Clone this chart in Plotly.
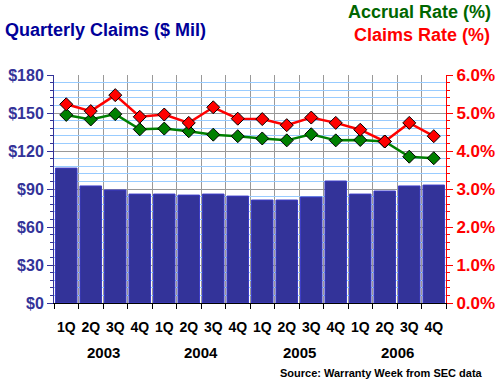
import numpy as np
import plotly.graph_objects as go

quarters = ["1Q", "2Q", "3Q", "4Q"] * 4
years = ["2003", "2004", "2005", "2006"]
claims = [106.5, 92.4, 89.2, 86.0, 86.0, 85.2, 86.0, 84.4, 81.3, 81.3, 83.7, 96.3, 86.0, 88.4, 92.4, 93.1]
accrual_rate = [4.95, 4.83, 4.97, 4.57, 4.59, 4.52, 4.43, 4.39, 4.33, 4.28, 4.44, 4.28, 4.29, 4.25, 3.85, 3.81]
claims_rate = [5.23, 5.05, 5.47, 4.90, 4.96, 4.74, 5.15, 4.85, 4.84, 4.68, 4.88, 4.74, 4.56, 4.25, 4.74, 4.39]

x = np.arange(len(quarters))
FONT = "Liberation Sans, Arial, sans-serif"
NAVY = "#333399"
RED = "#ff0000"
GREEN = "#008000"

fig = go.Figure()
fig.add_trace(go.Bar(x=x, y=claims, marker=dict(color=NAVY, line=dict(color="#3c3cc8", width=1)),
                     yaxis="y", name="Claims"))
fig.add_trace(go.Scatter(x=x, y=accrual_rate, yaxis="y2", mode="lines+markers",
                         line=dict(color=GREEN, width=2.5),
                         marker=dict(symbol="diamond", size=10, color=GREEN, line=dict(color="black", width=1)),
                         name="Accrual Rate"))
fig.add_trace(go.Scatter(x=x, y=claims_rate, yaxis="y2", mode="lines+markers",
                         line=dict(color=RED, width=2.5),
                         marker=dict(symbol="diamond", size=10, color=RED, line=dict(color="black", width=1)),
                         name="Claims Rate"))

boundaries = np.arange(len(quarters) + 1) - 0.5

fig.update_layout(
    width=500, height=387,
    margin=dict(l=54, r=54, t=75, b=84, autoexpand=False),
    paper_bgcolor="white", plot_bgcolor="white",
    showlegend=False, bargap=0.12,
    font=dict(family=FONT),
    xaxis=dict(range=[-0.5, len(quarters) - 0.5], tickmode="array", tickvals=x, ticktext=quarters,
               ticks="", showgrid=False, showline=True, linecolor="black", linewidth=1,
               automargin=False, ticklabelstandoff=11,
               tickfont=dict(family=FONT, size=14, color="black", weight="bold"),
               minor=dict(tickmode="array", tickvals=boundaries, ticks="outside", ticklen=5,
                          tickcolor="black", showgrid=True, gridcolor="#999999", gridwidth=1),
               zeroline=False),
    yaxis=dict(range=[0, 180], tickmode="linear", tick0=0, dtick=30, tickprefix="$",
               showline=True, linecolor=NAVY, linewidth=1, ticks="outside", ticklen=6, tickcolor=NAVY,
               automargin=False,
               tickfont=dict(family=FONT, size=16, color=NAVY, weight="bold"),
               showgrid=True, gridcolor="#999999", gridwidth=1, zeroline=False,
               minor=dict(dtick=6, ticks="outside", ticklen=3, tickcolor=NAVY,
                          showgrid=True, gridcolor="#99ccff", gridwidth=1)),
    yaxis2=dict(range=[0, 6], overlaying="y", side="right", tickmode="linear", tick0=0, dtick=1,
                tickformat=".1f", ticksuffix="%", showline=True, linecolor=RED, linewidth=1,
                ticks="outside", ticklen=6, tickcolor=RED, automargin=False,
                tickfont=dict(family=FONT, size=17, color=RED, weight="bold"),
                showgrid=False, zeroline=False,
                minor=dict(dtick=0.2, ticks="outside", ticklen=3, tickcolor=RED)),
)

for i, yr in enumerate(years):
    fig.add_annotation(x=4 * i + 1.5, y=0, xref="x", yref="paper", yanchor="middle", yshift=-49,
                       text=f"<b>{yr}</b>", showarrow=False,
                       font=dict(family=FONT, size=15, color="black"))

fig.add_annotation(x=(3 - 54) / 392, y=1 + 45 / 228, xref="paper", yref="paper", xanchor="left", yanchor="middle",
                   showarrow=False, text="<b>Quarterly Claims ($ Mil)</b>",
                   font=dict(family=FONT, size=18, color="#000099"))
fig.add_annotation(x=1 + 47 / 392, y=1 + 63 / 228, xref="paper", yref="paper", xanchor="right", yanchor="middle",
                   showarrow=False, text="<b>Accrual Rate (%)</b>", font=dict(family=FONT, size=18, color="#006600"))
fig.add_annotation(x=1 + 46 / 392, y=1 + 40 / 228, xref="paper", yref="paper", xanchor="right", yanchor="middle",
                   showarrow=False, text="<b>Claims Rate (%)</b>", font=dict(family=FONT, size=18, color=RED))
fig.add_annotation(x=1 + 39 / 392, y=-70 / 228, xref="paper", yref="paper", xanchor="right", yanchor="middle",
                   showarrow=False, text="<b>Source: Warranty Week from SEC data</b>",
                   font=dict(family=FONT, size=11, color="black"))

fig.write_html("out.html", config={"displayModeBar": False},
               post_script="document.body.style.margin='0';document.body.style.overflow='hidden';")
